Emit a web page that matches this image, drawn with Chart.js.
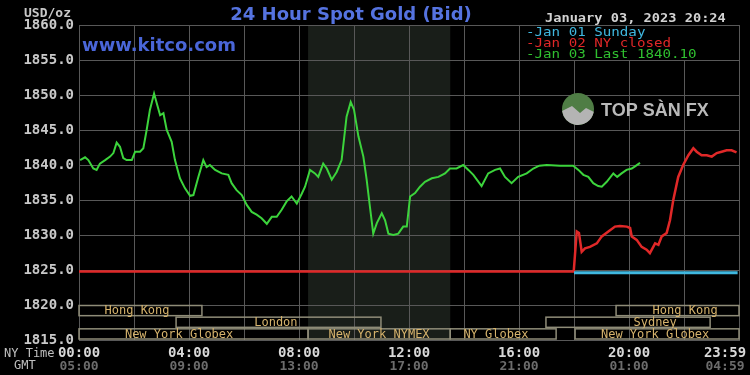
<!DOCTYPE html>
<html>
<head>
<meta charset="utf-8">
<title>24 Hour Spot Gold (Bid)</title>
<script src="https://cdn.jsdelivr.net/npm/chart.js@4/dist/chart.umd.min.js"></script>
<style>
  html, body { margin: 0; padding: 0; background: #000; }
  canvas { display: block; }
</style>
</head>
<body>
<canvas id="goldChart" width="750" height="375"></canvas>
<script>
// ── Data (hours since 00:00 NY time, USD/oz) ────────────────────────────────
const jan03Hours = [
  0.04, 0.22, 0.34, 0.52, 0.64, 0.76, 0.95, 1.13, 1.25, 1.37, 1.49, 1.61, 1.73, 1.92,
  2.04, 2.22, 2.34, 2.46, 2.58, 2.73, 2.83, 2.95, 3.07, 3.19, 3.37, 3.49, 3.67, 3.85,
  4.04, 4.16, 4.34, 4.52, 4.64, 4.76, 4.95, 5.19, 5.43, 5.55, 5.73, 5.92, 6.10, 6.28,
  6.46, 6.64, 6.83, 7.01, 7.19, 7.37, 7.55, 7.73, 7.92, 8.10, 8.22, 8.40, 8.58, 8.70,
  8.88, 9.01, 9.19, 9.37, 9.55, 9.73, 9.88, 10.00, 10.16, 10.34, 10.46, 10.58, 10.70,
  10.83, 11.01, 11.13, 11.25, 11.43, 11.61, 11.79, 11.92, 12.04, 12.22, 12.40, 12.58,
  12.83, 13.07, 13.31, 13.49, 13.73, 13.97, 14.16, 14.34, 14.64, 14.88, 15.13, 15.31,
  15.49, 15.73, 15.97, 16.28, 16.52, 16.74, 17.01, 17.49, 17.97, 18.16, 18.34, 18.52,
  18.70, 18.88, 19.01, 19.19, 19.43, 19.57, 19.73, 19.91, 20.10, 20.22, 20.40
];
const jan03Prices = [
  1840.7, 1841.1, 1840.7, 1839.5, 1839.3, 1840.2, 1840.7, 1841.2, 1841.7, 1843.2, 1842.6, 1841.0, 1840.7, 1840.7,
  1841.9, 1841.9, 1842.4, 1845.0, 1847.9, 1850.2, 1848.8, 1847.1, 1847.4, 1845.0, 1843.3, 1840.7, 1838.1, 1836.7,
  1835.6, 1835.7, 1838.3, 1840.7, 1839.7, 1840.0, 1839.3, 1838.8, 1838.6, 1837.4, 1836.4, 1835.7, 1834.3, 1833.3,
  1832.9, 1832.4, 1831.6, 1832.6, 1832.6, 1833.6, 1834.8, 1835.5, 1834.5, 1835.9, 1836.9, 1839.3, 1838.8, 1838.3,
  1840.2, 1839.5, 1837.9, 1839.0, 1840.7, 1846.9, 1849.0, 1847.9, 1844.1, 1841.2, 1837.9, 1834.0, 1830.2,
  1831.7, 1833.1, 1832.1, 1830.2, 1830.0, 1830.2, 1831.2, 1831.2, 1835.5, 1836.0, 1836.9, 1837.6,
  1838.1, 1838.3, 1838.8, 1839.5, 1839.5, 1840.0, 1839.3, 1838.6, 1837.0, 1838.8, 1839.3, 1839.5,
  1838.3, 1837.4, 1838.3, 1838.8, 1839.5, 1839.9, 1840.0, 1839.9, 1839.9, 1839.3, 1838.6, 1838.3,
  1837.4, 1837.0, 1836.9, 1837.6, 1838.8, 1838.3, 1838.8, 1839.3, 1839.5, 1839.8, 1840.3
];

const jan02Hours = [
  0.00, 17.99, 18.10, 18.18, 18.28, 18.40, 18.58, 18.83, 19.01, 19.25, 19.49, 19.67, 19.92,
  20.04, 20.10, 20.28, 20.46, 20.64, 20.76, 20.95, 21.07, 21.19, 21.37, 21.49, 21.61, 21.79,
  21.97, 22.16, 22.34, 22.46, 22.64, 22.83, 23.01, 23.19, 23.37, 23.55, 23.73, 23.91
];
const jan02Prices = [
  1824.8, 1824.8, 1830.5, 1830.3, 1827.6, 1828.1, 1828.3, 1828.8, 1829.8, 1830.5, 1831.2, 1831.3, 1831.2,
  1831.0, 1829.8, 1829.3, 1828.3, 1827.9, 1827.4, 1828.8, 1828.6, 1829.8, 1830.3, 1832.1, 1835.0, 1838.3,
  1840.0, 1841.4, 1842.4, 1841.9, 1841.4, 1841.4, 1841.2, 1841.7, 1841.9, 1842.1, 1842.1, 1841.8
];

const jan01Hours  = [18.0, 23.95];
const jan01Prices = [1824.6, 1824.6];

// Axis labels
const tickHours = [0, 4, 8, 12, 16, 20, 24];
const nyLabels  = ['00:00', '04:00', '08:00', '12:00', '16:00', '20:00', '23:59'];
const gmtLabels = ['05:00', '09:00', '13:00', '17:00', '21:00', '01:00', '04:59'];

// Trading sessions (row 0 = top)
const sessionRows   = [0, 1, 1, 2, 2, 2, 2, 0];
const sessionStarts = [0, 3.53, 16.98, 0, 8.33, 13.5, 18.04, 19.53];
const sessionEnds   = [4.47, 10.98, 22.95, 8.33, 13.5, 17.35, 24, 24];
const sessionNames  = ['Hong Kong', 'London', 'Sydney', 'New York Globex', 'New York NYMEX',
                       'NY Globex', 'New York Globex', 'Hong Kong'];
const sessionLabelAt = [2.11, 7.16, 20.95, 3.64, 10.91, 15.16, 20.95, 22.04];

// COMEX pit hours (shaded)
const comexOpen  = 8.33;
const comexClose = 13.5;

// ── Colours & fonts ─────────────────────────────────────────────────────────
const GRID   = '#585858';
const GREEN  = '#3cd43c';
const RED    = '#e02828';
const BLUE   = '#40b8e0';
const MONO   = '"DejaVu Sans Mono", "Liberation Mono", monospace';
const SANS   = '"DejaVu Sans", Verdana, sans-serif';

const toPoints = (hours, prices) => hours.map((h, i) => ({ x: h, y: prices[i] }));

// ── Decorations drawn around the chart ──────────────────────────────────────
const kitcoDecor = {
  id: 'kitcoDecor',

  beforeDraw(chart) {
    const { ctx, chartArea: a, scales: { x } } = chart;
    ctx.save();
    ctx.fillStyle = '#000';
    ctx.fillRect(0, 0, chart.width, chart.height);
    // shaded COMEX hours
    const x0 = x.getPixelForValue(comexOpen);
    const x1 = x.getPixelForValue(comexClose);
    ctx.fillStyle = '#191e19';
    ctx.fillRect(x0, a.top, x1 - x0, a.bottom - a.top);
    ctx.restore();
  },

  beforeDatasetsDraw(chart) {
    const { ctx, chartArea: a, scales: { x, y } } = chart;
    ctx.save();

    // legend box
    const lx = x.getPixelForValue(16);
    const ly = y.getPixelForValue(1855);
    ctx.fillStyle = '#000';
    ctx.fillRect(lx, a.top, a.right - lx, ly - a.top);
    ctx.strokeStyle = GRID;
    ctx.lineWidth = 1;
    ctx.strokeRect(Math.round(lx) + 0.5, Math.round(a.top) + 0.5, a.right - lx, ly - a.top);

    ctx.font = '13px ' + MONO;
    ctx.textAlign = 'left';
    ctx.textBaseline = 'alphabetic';
    [['-Jan 01 Sunday', BLUE], ['-Jan 02 NY closed', RED], ['-Jan 03 Last 1840.10', '#30c030']]
      .forEach(([t, c], i) => {
        ctx.fillStyle = c;
        ctx.save();
        ctx.translate(lx + 7, a.top + 11 + i * 10.8);
        ctx.scale(1.09, 0.88);
        ctx.fillText(t, 0, 0);
        ctx.restore();
      });

    // trading session boxes
    const rowTop = y.getPixelForValue(1820);
    const rowH = (a.bottom - rowTop) / 3;
    ctx.strokeStyle = '#8f8c78';
    ctx.lineWidth = 1.5;
    ctx.font = '12px ' + MONO;
    ctx.textAlign = 'center';
    ctx.textBaseline = 'middle';
    sessionNames.forEach((name, i) => {
      const sx = x.getPixelForValue(sessionStarts[i]);
      const ex = x.getPixelForValue(sessionEnds[i]);
      const top = rowTop + sessionRows[i] * rowH + 0.5;
      ctx.strokeRect(sx, top, ex - sx, rowH - 1.5);
      ctx.fillStyle = '#d6b36c';
      ctx.fillText(name, x.getPixelForValue(sessionLabelAt[i]), top + rowH / 2);
    });

    // watermark
    const cx = 578, cy = 109, r = 16;
    ctx.beginPath();
    ctx.arc(cx, cy, r, 0, Math.PI * 2);
    ctx.fillStyle = '#4f7d45';
    ctx.fill();
    ctx.beginPath();
    ctx.moveTo(cx - r, cy + 2);
    ctx.lineTo(cx - 6, cy - 3);
    ctx.lineTo(cx + 2, cy + 4);
    ctx.lineTo(cx + 8, cy - 1);
    ctx.lineTo(cx + r, cy + 3);
    ctx.arc(cx, cy, r, 0.19, Math.PI - 0.12);
    ctx.fillStyle = '#b4b4b4';
    ctx.fill();
    ctx.font = 'bold 18px "Liberation Sans", Arial, sans-serif';
    ctx.textAlign = 'left';
    ctx.textBaseline = 'alphabetic';
    ctx.fillStyle = '#b9b9b9';
    ctx.fillText('TOP SÀN FX', 601, 116);

    ctx.restore();
  },

  afterDraw(chart) {
    const { ctx, scales: { x } } = chart;
    ctx.save();

    // title & site
    ctx.textBaseline = 'alphabetic';
    ctx.textAlign = 'center';
    ctx.fillStyle = '#5573e0';
    ctx.font = 'bold 18px ' + SANS;
    ctx.fillText('24 Hour Spot Gold (Bid)', 351, 20);
    ctx.textAlign = 'left';
    ctx.fillStyle = '#4a66d8';
    ctx.fillText('www.kitco.com', 82, 51);

    // date stamp & unit
    ctx.font = 'bold 13px ' + MONO;
    ctx.fillStyle = '#d2d2d2';
    ctx.save();
    ctx.translate(545, 22);
    ctx.scale(1.05, 1);
    ctx.fillText('January 03, 2023 20:24', 0, 0);
    ctx.restore();
    ctx.fillStyle = '#c8c8c8';
    ctx.fillText('USD/oz', 24, 17);

    // x axis labels: NY time and GMT
    ctx.font = '12px ' + MONO;
    ctx.fillStyle = '#c0c0c0';
    ctx.fillText('NY Time', 4, 357);
    ctx.fillText('GMT', 14, 369);
    ctx.textAlign = 'center';
    tickHours.forEach((h, i) => {
      let px = x.getPixelForValue(h);
      if (i === tickHours.length - 1) px = Math.min(px, 725);
      ctx.font = 'bold 14px ' + MONO;
      ctx.fillStyle = '#d8d8d8';
      ctx.fillText(nyLabels[i], px, 357);
      ctx.font = 'bold 13px ' + MONO;
      ctx.fillStyle = '#6c6c6c';
      ctx.fillText(gmtLabels[i], px, 370);
    });

    ctx.restore();
  }
};

// ── Chart ───────────────────────────────────────────────────────────────────
new Chart(document.getElementById('goldChart'), {
  type: 'line',
  data: {
    datasets: [
      { label: 'Jan 01 Sunday',    data: toPoints(jan01Hours, jan01Prices), borderColor: BLUE,  borderWidth: 3 },
      { label: 'Jan 02 NY closed', data: toPoints(jan02Hours, jan02Prices), borderColor: RED,   borderWidth: 2.5 },
      { label: 'Jan 03',           data: toPoints(jan03Hours, jan03Prices), borderColor: GREEN, borderWidth: 2 },
    ],
  },
  options: {
    responsive: false,
    animation: false,
    events: [],
    layout: { padding: { top: 25, right: 11, left: 0, bottom: 0 } },
    elements: { point: { radius: 0 }, line: { tension: 0 } },
    plugins: { legend: { display: false }, tooltip: { enabled: false } },
    scales: {
      x: {
        type: 'linear',
        min: 0,
        max: 24,
        afterFit: s => { s.height = 35; },
        ticks: { stepSize: 2, display: false },
        grid: { color: GRID, drawTicks: false },
        border: { color: GRID },
      },
      y: {
        min: 1815,
        max: 1860,
        afterFit: s => { s.width = 79; },
        ticks: {
          stepSize: 5,
          padding: 5,
          color: '#c8c8c8',
          font: { family: MONO, size: 14, weight: 'bold' },
          callback: v => v.toFixed(1),
        },
        grid: { color: GRID, drawTicks: false },
        border: { color: GRID },
      },
    },
  },
  plugins: [kitcoDecor],
});
</script>
</body>
</html>
